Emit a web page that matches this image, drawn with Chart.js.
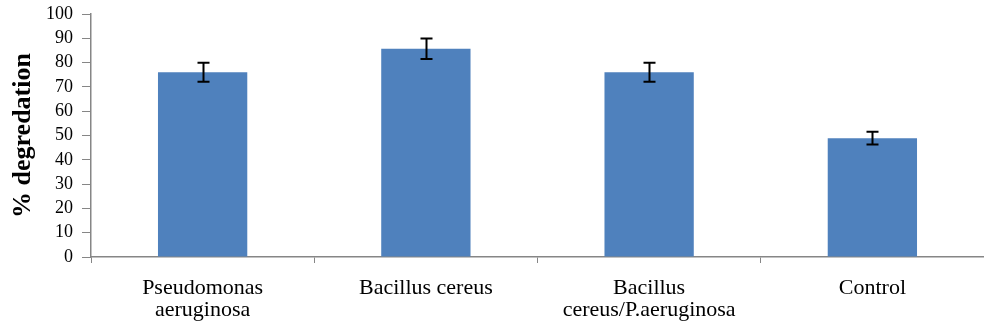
<!DOCTYPE html>
<html lang="en">
<head>
    <meta charset="UTF-8">
    <script src="https://cdn.jsdelivr.net/npm/chart.js"></script>
    <title>% degradation</title>
    <style>
        html, body { margin: 0; padding: 0; background: #fff; }
        #wrap { width: 984px; height: 328px; }
    </style>
</head>
<body>
<div id="wrap"><canvas id="degChart"></canvas></div>

<script>
    // strains tested and their mean degradation with +/- error
    const strains = [
        ['Pseudomonas', 'aeruginosa'],
        'Bacillus cereus',
        ['Bacillus', 'cereus/P.aeruginosa'],
        'Control'
    ];
    const degradation = [76, 85.7, 76, 48.9];
    const errors = [3.9, 4.2, 3.9, 2.6];
    const yTicks = [0, 10, 20, 30, 40, 50, 60, 70, 80, 90, 100];

    const axisGrey = '#868686';
    const serif = 'Liberation Serif, Times New Roman, serif';

    // draws the error bars on top of each bar
    const errorBars = {
        id: 'errorBars',
        afterDatasetsDraw(chart) {
            const ctx = chart.ctx;
            const y = chart.scales.y;
            const meta = chart.getDatasetMeta(0);
            ctx.save();
            ctx.strokeStyle = '#000';
            ctx.lineWidth = 2;
            meta.data.forEach((bar, i) => {
                const top = y.getPixelForValue(degradation[i] + errors[i]);
                const bottom = y.getPixelForValue(degradation[i] - errors[i]);
                const x = Math.round(bar.x) + 0.5;
                ctx.beginPath();
                ctx.moveTo(x, top);
                ctx.lineTo(x, bottom);
                ctx.moveTo(x - 6, top);
                ctx.lineTo(x + 6, top);
                ctx.moveTo(x - 6, bottom);
                ctx.lineTo(x + 6, bottom);
                ctx.stroke();
            });
            ctx.restore();
        }
    };

    new Chart(document.getElementById('degChart'), {
        type: 'bar',
        data: {
            labels: strains,
            datasets: [{
                data: degradation,
                backgroundColor: '#4f81bd',
                borderWidth: 0,
                barPercentage: 0.5,
                categoryPercentage: 0.8
            }]
        },
        options: {
            responsive: true,
            maintainAspectRatio: false,
            animation: false,
            layout: { padding: { top: 14, right: 0, bottom: 0, left: 4 } },
            plugins: {
                legend: { display: false },
                tooltip: { enabled: false }
            },
            scales: {
                x: {
                    // fixed height for the two-line category labels
                    afterFit: axis => { axis.height = 71; axis.paddingLeft = 0; axis.paddingRight = 0; },
                    grid: {
                        display: true,
                        drawOnChartArea: false,
                        color: axisGrey,
                        tickLength: 6
                    },
                    border: { color: axisGrey, width: 1.5 },
                    ticks: {
                        color: '#000',
                        padding: 14,
                        maxRotation: 0,
                        font: { family: serif, size: 22, lineHeight: 1.0 }
                    }
                },
                y: {
                    min: 0,
                    max: 100,
                    afterBuildTicks: axis => { axis.ticks = yTicks.map(v => ({ value: v })); },
                    afterFit: axis => { axis.width = 87; axis.paddingTop = 0; axis.paddingBottom = 0; },
                    grid: {
                        display: true,
                        drawOnChartArea: false,
                        color: axisGrey,
                        tickLength: 9
                    },
                    border: { color: axisGrey, width: 1.5 },
                    ticks: {
                        color: '#000',
                        padding: 9,
                        autoSkip: false,
                        font: { family: serif, size: 18 }
                    },
                    title: {
                        display: true,
                        text: '% degredation',
                        color: '#000',
                        padding: { top: 4, bottom: 0 },
                        font: { family: serif, size: 26, weight: 'bold', lineHeight: 1.2 }
                    }
                }
            }
        },
        plugins: [errorBars]
    });
</script>
</body>
</html>
